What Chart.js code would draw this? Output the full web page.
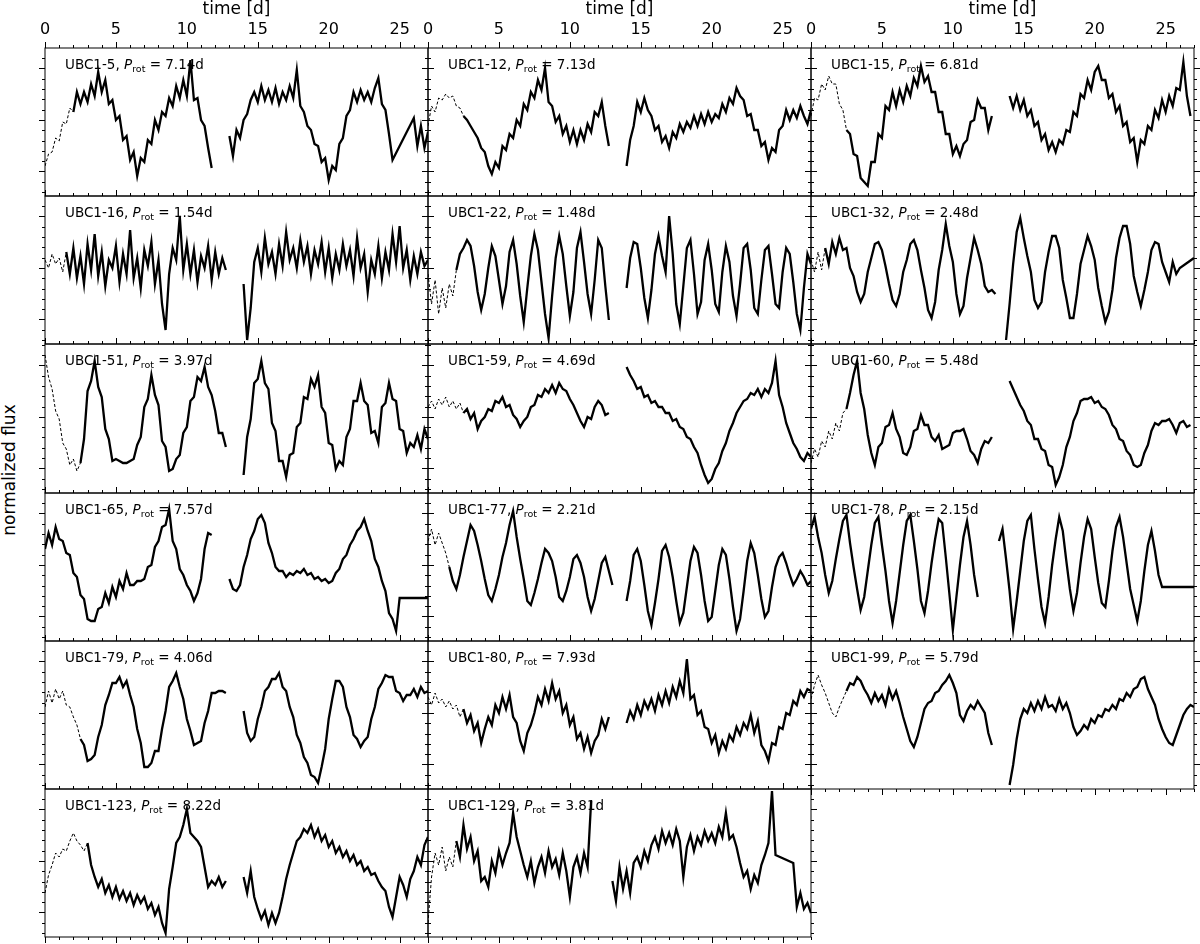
<!DOCTYPE html>
<html>
<head>
<meta charset="utf-8">
<script src="https://cdn.jsdelivr.net/npm/chart.js@4/dist/chart.umd.min.js"></script>
<style>
  body { margin: 0; background: #fff; width: 1200px; height: 944px; position: relative; overflow: hidden; font-family: "DejaVu Sans", sans-serif; }
  canvas.panel { position: absolute; }
  .lab { position: absolute; font-size: 13.5px; line-height: 1; white-space: nowrap; color: #000; }
  .lab sub { font-size: 9.5px; vertical-align: baseline; position: relative; top: 3px; }
  #ylab { position: absolute; left: 9px; top: 470px; font-size: 17px; white-space: nowrap; transform: translate(-50%, -50%) rotate(-90deg); }
</style>
</head>
<body>
<div id="ylab">normalized flux</div>
<script>
// time grid of the light curves [d]
const time = [0,0.25,0.5,0.75,1,1.25,1.5,1.75,2,2.25,2.5,2.75,3,3.25,3.5,3.75,4,4.25,4.5,4.75,5,5.25,5.5,5.75,6,6.25,6.5,6.75,7,7.25,7.5,7.75,8,8.25,8.5,8.75,9,9.25,9.5,9.75,10,10.25,10.5,10.75,11,11.25,11.5,11.75,12,12.25,12.5,12.75,13,13.25,13.5,13.75,14,14.25,14.5,14.75,15,15.25,15.5,15.75,16,16.25,16.5,16.75,17,17.25,17.5,17.75,18,18.25,18.5,18.75,19,19.25,19.5,19.75,20,20.25,20.5,20.75,21,21.25,21.5,21.75,22,22.25,22.5,22.75,23,23.25,23.5,23.75,24,24.25,24.5,24.75,25,25.25,25.5,25.75,26,26.25,26.5,26.75,27];
const timeTicks = [0, 5, 10, 15, 20, 25];

// null = gap in the data, _ = no sample (line joins across)
const _ = undefined;

// flux in arbitrary units (0 = bottom of panel range, 148 = top)
const ubc1_5 = [
  30,42,44,58, 55,74,72,88, 84,104,92,104,
  94,112,100,124, 104,116,92,96, 76,80,56,60,
  36,44,20,38, 34,56,52,76, 66,84,80,98,
  90,110,98,116, 100,136,96,98, 76,70,48,28,
  null,null,null,null, 60,40,66,58, 76,82,96,104,
  94,110,96,106, 94,108,92,104, 96,110,98,126,
  90,84,70,66, 52,50,34,38, 16,30,26,52,
  58,80,86,104, 94,106,96,104, 94,108,118,92,
  86,62,36,_, _,_,_,_, 78,50,70,48,
  64];
const ubc1_12 = [
  70,90,84,98, 96,102,98,100, 90,88,80,76,
  70,64,58,48, 44,30,22,34, 28,50,46,62,
  58,76,70,92, 86,104,98,116, 106,128,94,90,
  74,80,62,70, 54,66,52,66, 56,72,64,84,
  80,94,70,50, null,null,null,null, 30,56,70,94,
  84,98,86,80, 66,70,54,60, 48,64,58,72,
  64,74,68,80, 70,82,72,84, 74,82,78,92,
  84,98,92,108, 100,96,80,82, 66,66,50,54,
  36,48,44,66, 70,86,76,86, 78,90,80,72,
  86];
const ubc1_15 = [
  80,98,96,112, 106,120,112,112, 92,86,66,62,
  42,40,18,14, 10,34,34,62, 58,90,86,104,
  90,106,94,110, 100,118,110,130, 114,120,104,104,
  84,84,62,62, 42,50,40,52, 56,74,76,96,
  88,88,66,80, null,null,null,null, 100,88,100,86,
  96,80,86,70, 74,56,62,46, 54,44,56,52,
  66,64,84,80, 102,98,116,106, 124,130,116,116,
  98,102,84,90, 70,74,54,58, 34,56,52,70,
  66,86,78,96, 84,100,90,108, 106,134,100,80,
  null];
const ubc1_16 = [
  84,76,90,80, 86,72,92,70, 96,66,88,60,
  100,74,110,68, 92,58,84,76, 98,62,90,70,
  114,66,86,56, 94,78,102,60, 84,40,14,70,
  96,84,128,74, 100,70,94,62, 88,76,98,64,
  92,70,86,74, null,null,null,null, 60,4,36,82,
  96,72,106,80, 92,70,100,78, 112,84,96,76,
  104,82,98,70, 94,80,102,72, 96,66,90,74,
  100,78,94,68, 106,76,90,52, 84,70,98,66,
  92,74,110,82, 118,76,94,64, 88,70,92,78,
  84];
const ubc1_22 = [
  70,40,64,30, 56,36,60,48, 74,90,96,104,
  98,78,52,34, 50,76,98,88, 64,40,58,92,
  104,80,48,22, 56,88,110,94, 62,30,6,48,
  86,108,90,58, 28,52,96,112, 82,50,30,64,
  104,96,58,24, null,null,null,null, 56,86,102,100,
  76,46,26,54, 90,108,88,72, 128,90,40,20,
  58,96,104,70, 30,42,84,100, 74,40,32,72,
  98,82,48,28, 60,96,100,74, 36,30,64,94,
  98,70,40,36, 72,96,90,62, 30,14,56,90,
  80];
const ubc1_32 = [
  84,72,92,74, 96,80,102,90, 106,94,96,76,
  68,52,42,50, 72,86,100,102, 94,78,60,44,
  38,50,72,84, 100,104,94,74, 56,34,26,42,
  74,94,120,98, 82,50,30,38, 66,86,106,94,
  80,58,52,54, 50,null,null,4, 40,80,112,126,
  106,88,72,44, 36,42,72,92, 108,108,96,64,
  46,26,26,50, 80,94,108,98, 84,56,38,22,
  32,54,86,106, 118,118,100,68, 52,38,54,72,
  94,102,100,82, 72,62,82,70, 76,_,_,_,
  86];
const ubc1_51 = [
  138,116,104,82, 74,50,44,28, 34,22,30,54,
  102,112,132,106, 96,64,54,32, 34,32,30,30,
  32,34,48,56, 86,94,118,98, 88,52,46,22,
  24,34,38,60, 66,92,96,116, 112,126,106,98,
  82,60,60,46, null,null,null,null, 18,56,74,110,
  114,132,110,104, 70,62,32,32, 16,38,40,66,
  70,96,94,114, 106,118,86,80, 50,48,24,32,
  28,56,64,92, 92,110,92,88, 60,62,50,86,
  90,110,94,92, 64,62,40,50, 46,58,44,64,
  54];
const ubc1_59 = [
  86,92,84,94, 88,96,86,92, 84,90,80,84,
  74,80,64,72, 76,84,82,92, 90,96,86,88,
  78,74,66,72, 76,86,88,98, 96,104,100,108,
  100,110,104,102, 94,88,80,72, 66,76,74,86,
  92,88,78,80, null,null,null,null, 126,118,112,104,
  106,96,98,90, 92,86,86,80, 80,72,74,66,
  64,56,54,46, 40,28,18,10, 14,24,30,42,
  50,62,70,80, 86,92,94,100, 98,104,96,104,
  100,110,132,98, 86,70,60,50, 44,36,32,40,
  36];
const ubc1_60 = [
  30,44,36,52, 46,62,54,70, 62,80,84,100,
  118,132,100,84, 58,40,28,46, 50,66,68,80,
  64,56,40,38, 46,62,64,78, 68,68,56,52,
  58,44,46,48, 60,62,62,64, 54,42,38,30,
  44,52,50,56, null,null,null,null, 112,104,96,88,
  82,72,68,54, 54,44,42,28, 26,8,16,28,
  46,56,72,80, 92,94,94,96, 90,92,86,84,
  78,68,64,54, 52,42,38,28, 26,28,40,48,
  62,70,68,72, 72,74,68,60, 70,72,66,68,
  null];
const ubc1_65 = [
  92,108,96,114, 102,100,88,86, 68,64,46,42,
  22,20,20,32, 34,48,38,54, 44,60,52,68,
  56,56,60,60, 62,74,76,94, 100,114,116,132,
  100,92,72,66, 56,50,40,48, 62,92,108,106,
  null,null,null,null, 62,52,50,56, 74,86,102,110,
  122,126,118,98, 88,74,70,70, 64,68,66,70,
  68,72,66,68, 62,64,60,62, 58,60,68,72,
  82,86,96,102, 110,114,122,110, 100,82,74,60,
  50,28,22,10, 43,_,_,_, _,_,_,_,
  43];
const ubc1_77 = [
  100,112,96,108, 98,88,74,60, 52,66,84,100,
  116,110,96,80, 62,46,40,52, 66,84,98,116,
  130,104,82,62, 40,36,48,62, 78,92,88,80,
  64,44,40,50, 64,82,86,78, 64,44,30,42,
  60,78,84,70, 56,null,null,null, 40,60,86,92,
  80,56,30,16, 38,62,90,96, 84,64,40,18,
  28,54,80,94, 88,66,40,20, 24,50,76,92,
  86,62,34,10, 22,50,80,98, 88,66,42,24,
  30,54,74,84, 88,78,66,56, 62,70,64,56,
  60];
const ubc1_78 = [
  112,124,104,88, 66,48,60,82, 102,120,126,98,
  74,52,31,44, 70,96,118,124, 96,70,40,18,
  40,68,96,120, 126,100,72,40, 28,50,78,102,
  122,118,84,48, 11,44,76,104, 120,96,66,44,
  null,null,null,null, null,100,112,82, 50,12,40,70,
  100,120,126,92, 62,34,18,44, 76,102,124,110,
  80,52,30,48, 78,104,122,112, 84,58,38,34,
  60,90,114,124, 104,78,52,36, 20,40,70,96,
  110,90,66,54, _,_,_,_, _,_,_,_,
  54];
const ubc1_79 = [
  82,98,86,100, 90,98,84,82, 72,64,50,44,
  28,30,34,52, 64,84,94,106, 106,112,102,108,
  94,82,60,46, 22,22,26,38, 38,60,78,102,
  108,116,102,90, 70,58,44,46, 48,66,78,96,
  96,98,98,96, null,null,null,null, 78,56,48,52,
  70,82,98,102, 110,110,116,102, 98,82,72,54,
  46,32,26,14, 12,6,22,40, 70,90,108,108,
  102,82,72,54, 50,42,48,52, 70,82,100,106,
  114,112,112,98, 96,88,94,94, 100,92,102,96,
  98];
const ubc1_80 = [
  92,84,96,86, 90,82,88,80, 84,72,80,66,
  74,58,66,46, 60,72,64,84, 76,92,80,94,
  72,66,48,38, 56,64,76,92, 84,100,88,106,
  90,98,76,84, 64,72,50,56, 40,52,36,48,
  54,70,60,72, null,null,null,null, 66,78,70,84,
  74,88,80,90, 78,94,84,98, 86,102,92,108,
  96,130,90,94, 74,78,62,60, 46,54,36,48,
  40,54,48,62, 54,66,60,74, 56,68,44,38,
  28,46,44,62, 60,76,74,88, 84,98,92,100,
  98];
const ubc1_99 = [
  90,104,114,104, 96,86,76,72, 82,90,98,106,
  104,112,108,100, 94,86,96,88, 94,84,100,90,
  98,86,72,60, 48,42,52,66, 80,86,88,96,
  98,104,108,114, 106,96,74,68, 78,84,80,88,
  82,76,56,44, null,null,null,null, 4,24,50,70,
  80,76,86,78, 88,80,92,82, 84,78,90,80,
  86,76,62,54, 58,64,60,70, 66,74,72,80,
  78,84,80,90, 88,96,92,100, 102,110,112,100,
  92,84,70,60, 52,46,44,54, 64,74,80,84,
  82];
const ubc1_123 = [
  44,62,72,84, 80,88,86,96, 104,96,92,86,
  94,72,60,50, 58,44,52,40, 50,38,46,36,
  44,32,42,34, 40,28,34,22, 30,14,4,48,
  70,94,100,112, 128,104,100,96, 90,70,50,56,
  52,60,50,56, null,null,null,null, 60,44,66,40,
  28,18,26,12, 24,14,24,40, 58,72,84,96,
  100,108,104,112, 100,108,96,102, 90,96,84,90,
  80,86,76,82, 72,76,66,70, 62,64,56,50,
  46,30,20,40, 60,52,40,58, 66,80,72,92,
  100];
const ubc1_129 = [
  14,60,84,72, 90,66,80,70, 96,80,112,88,
  100,76,86,56, 60,50,76,64, 86,72,84,94,
  124,100,86,72, 60,76,54,70, 80,64,86,70,
  78,62,84,66, 40,70,80,64, 84,70,136,null,
  null,null,null,null, 56,36,70,48, 66,44,74,80,
  70,86,76,92, 100,88,106,94, 104,92,108,96,
  60,90,102,86, 100,92,106,96, 104,94,110,100,
  124,98,102,90, 74,60,66,48, 62,54,72,82,
  94,146,82,_, _,_,_,74, 30,44,28,34,
  24];

const starNames = ['UBC1-5','UBC1-12','UBC1-15','UBC1-16','UBC1-22','UBC1-32','UBC1-51','UBC1-59','UBC1-60',
                   'UBC1-65','UBC1-77','UBC1-78','UBC1-79','UBC1-80','UBC1-99','UBC1-123','UBC1-129'];
const periods = ['7.14','7.13','6.81','1.54','1.48','2.48','3.97','4.69','5.48','7.57','2.21','2.15','4.06','7.93','5.79','8.22','3.81'];
const fluxSeries = [ubc1_5, ubc1_12, ubc1_15, ubc1_16, ubc1_22, ubc1_32, ubc1_51, ubc1_59, ubc1_60,
                    ubc1_65, ubc1_77, ubc1_78, ubc1_79, ubc1_80, ubc1_99, ubc1_123, ubc1_129];
// sparse/dashed start of each light curve, up to this day
const dashTo = [2, 2.5, 2.5, 1.5, 2, 1, 2.5, 2.5, 2.5, 0, 1.5, 0, 2.5, 2.5, 2.5, 3, 2];

// layout of the panel grid
const colX = [45, 428, 811];
const rowTop = [48, 196, 344, 493, 641, 789, 937];
const W = 383;
const PAD = 20;

Chart.defaults.font.family = '"DejaVu Sans", sans-serif';
Chart.defaults.color = '#000';

// frame, tick marks and (top row) tick labels, matplotlib style
const frameTicks = {
  id: 'frameTicks',
  afterDatasetsDraw(chart, args, opts) {
    const { ctx, chartArea: a, scales: { x, y } } = chart;
    ctx.save();
    ctx.strokeStyle = '#000';
    ctx.lineWidth = 1;
    ctx.strokeRect(a.left, a.top, a.right - a.left, a.bottom - a.top);
    ctx.beginPath();
    for (let d = 0; d <= 27; d++) {
      const px = Math.round(x.getPixelForValue(d)) + 0.5;
      const len = d % 5 === 0 ? 6 : 3;
      ctx.moveTo(px, a.top); ctx.lineTo(px, a.top - len);
      if (opts.bottom) { ctx.moveTo(px, a.bottom); ctx.lineTo(px, a.bottom + len); }
    }
    for (let k = 0; ; k++) {
      const v = 4 + k * 10.3;
      if (v > y.max) break;
      const py = Math.round(y.getPixelForValue(v)) + 0.5;
      const len = k % 5 === 2 ? 6 : 3;
      ctx.moveTo(a.left, py); ctx.lineTo(a.left - len, py);
      ctx.moveTo(a.right, py); ctx.lineTo(a.right + len, py);
    }
    ctx.stroke();
    if (opts.labels) {
      ctx.fillStyle = '#000';
      ctx.font = '16px "DejaVu Sans", sans-serif';
      ctx.textAlign = 'center';
      ctx.textBaseline = 'alphabetic';
      timeTicks.forEach(d => ctx.fillText(String(d), x.getPixelForValue(d), a.top - 14.5));
    }
    ctx.restore();
  }
};

starNames.forEach((name, i) => {
  const col = i % 3, row = Math.floor(i / 3);
  const H = rowTop[row + 1] - rowTop[row];
  const first = row === 0;
  const lastInCol = i >= 14;

  const cv = document.createElement('canvas');
  cv.className = 'panel';
  cv.width = W + 2 * PAD;
  cv.height = first ? rowTop[1] + PAD : H + 2 * PAD;
  cv.style.left = (colX[col] - PAD) + 'px';
  cv.style.top = (first ? 0 : rowTop[row] - PAD) + 'px';
  document.body.appendChild(cv);

  const flux = fluxSeries[i];
  const pts = time.map((t, k) => ({ x: t, y: flux[k] })).filter(p => p.y !== undefined);
  const dt = dashTo[i];

  const xScale = {
    type: 'linear',
    min: 0, max: 27,
    display: first,
    position: 'top',
    grid: { display: false, drawTicks: false },
    border: { display: false },
    ticks: { display: false },
    title: { display: true, text: 'time [d]', color: '#000', padding: 0, font: { size: 17, lineHeight: 1.1 } }
  };
  if (first) xScale.afterFit = s => { s.height = 48; };

  new Chart(cv, {
    type: 'line',
    data: {
      datasets: [{
        data: pts,
        borderColor: '#000',
        borderWidth: 2.3,
        pointRadius: 0,
        tension: 0,
        spanGaps: false,
        segment: {
          borderDash: c => c.p1.parsed.x <= dt ? [3, 2] : undefined,
          borderWidth: c => c.p1.parsed.x <= dt ? 1 : undefined
        }
      }]
    },
    options: {
      responsive: false,
      animation: false,
      devicePixelRatio: 1,
      events: [],
      layout: { padding: { left: PAD, right: PAD, top: first ? 0 : PAD, bottom: PAD } },
      plugins: {
        legend: { display: false },
        tooltip: { enabled: false },
        frameTicks: { bottom: lastInCol, labels: first }
      },
      scales: {
        x: xScale,
        y: { display: false, min: 0, max: H }
      }
    },
    plugins: [frameTicks]
  });

  const lab = document.createElement('div');
  lab.className = 'lab';
  lab.style.left = (colX[col] + 20) + 'px';
  lab.style.top = (rowTop[row] + 9.6) + 'px';
  lab.innerHTML = name + ', <i>P</i><sub>rot</sub> = ' + periods[i] + 'd';
  document.body.appendChild(lab);
});
</script>
</body>
</html>
